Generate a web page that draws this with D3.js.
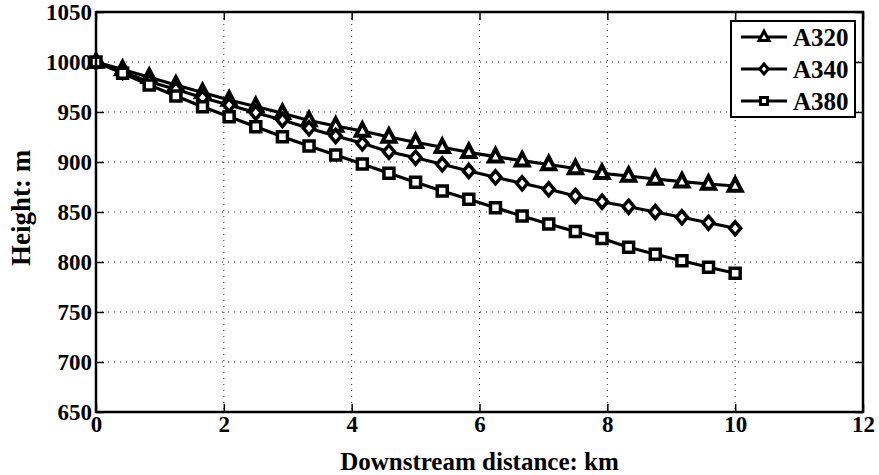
<!DOCTYPE html>
<html>
<head>
<meta charset="utf-8">
<script src="https://cdn.jsdelivr.net/npm/d3@7"></script>
<style>
  body { margin: 0; background: #fff; }
  svg text { font-family: "Liberation Serif", "Times New Roman", serif !important; font-weight: bold; fill: #000; }
</style>
</head>
<body>
<div id="draw_here"></div>
<script type="text/javascript">
    // Data
    xs = [0, 0.417, 0.833, 1.25, 1.667, 2.083, 2.5, 2.917, 3.333, 3.75, 4.167, 4.583, 5,
          5.417, 5.833, 6.25, 6.667, 7.083, 7.5, 7.917, 8.333, 8.75, 9.167, 9.583, 10]
    a320 = [1000, 992.5, 984.7, 977, 969.5, 962, 955.5, 948.7, 941.5, 936, 931, 925, 919.7,
            914.7, 909.7, 905.3, 901.3, 897.5, 893.5, 888.7, 886, 883, 880.3, 878, 876]
    a340 = [1000, 990, 980.3, 972.7, 964.3, 957, 949.3, 942, 933.7, 926, 918.7, 910.3, 904.3,
            897.7, 891, 884.7, 878.7, 872.7, 866, 860.3, 855.3, 850, 844.7, 839.3, 833.7]
    a380 = [1000, 988.7, 977, 966, 955.3, 945.3, 935.3, 925.3, 916, 907, 898, 888.7, 879.7,
            871, 862.7, 854.3, 846, 838, 830.5, 823.5, 814.7, 807.7, 801.3, 794.7, 788.7]
    seriesNames = ["A320", "A340", "A380"]
    seriesMarkers = ["triangle", "diamond", "square"]
    xTicks = [0, 2, 4, 6, 8, 10, 12]
    yTicks = [650, 700, 750, 800, 850, 900, 950, 1000, 1050]

    canvas = ({width: 879, height: 475})
    margin = ({top: 12, right: 16, bottom: 63, left: 96})
    tickLen = 8
    serif = '"Liberation Serif", "Times New Roman", serif'

    x = d3.scaleLinear().domain([0, 12]).range([margin.left, canvas.width - margin.right])
    y = d3.scaleLinear().domain([650, 1050]).range([canvas.height - margin.bottom, margin.top])

    var svg = d3.select("div#draw_here").append("svg")
        .attr("width", canvas.width)
        .attr("height", canvas.height)
        .attr("font-family", serif)

    // marker shapes, centred on 0,0
    function markerPath(kind, s) {
        if (kind == "triangle") {
            var h = s * 0.95
            return `M0,${-h * 0.62}L${s / 2},${h * 0.38}L${-s / 2},${h * 0.38}Z`
        }
        if (kind == "diamond") {
            return `M0,${-s / 2}L${s / 2 * 0.85},0L0,${s / 2}L${-s / 2 * 0.85},0Z`
        }
        return `M${-s / 2},${-s / 2}H${s / 2}V${s / 2}H${-s / 2}Z`
    }
    markerSize = ({triangle: 13, diamond: 13, square: 10})
    markerStroke = ({triangle: 4, diamond: 3.5, square: 3.5})

    // grid
    svg.append("g").selectAll("line")
        .data(xTicks.slice(1, -1))
        .join("line")
        .attr("x1", d => x(d)).attr("x2", d => x(d))
        .attr("y1", y(1050)).attr("y2", y(650))
        .attr("stroke", "#222").attr("stroke-width", 1)
        .attr("stroke-dasharray", "1,5")

    svg.append("g").selectAll("line")
        .data(yTicks.slice(1, -1))
        .join("line")
        .attr("y1", d => y(d)).attr("y2", d => y(d))
        .attr("x1", x(0)).attr("x2", x(12))
        .attr("stroke", "#222").attr("stroke-width", 1)
        .attr("stroke-dasharray", "1,5")

    // axes with inward ticks
    fmt = d3.format("d")
    xAxisB = d3.axisBottom(x).tickValues(xTicks).tickFormat(fmt).tickSizeInner(-tickLen).tickSizeOuter(0).tickPadding(5)
    xAxisT = d3.axisTop(x).tickValues(xTicks).tickSizeInner(-tickLen).tickSizeOuter(0).tickFormat("")
    yAxisL = d3.axisLeft(y).tickValues(yTicks).tickFormat(fmt).tickSizeInner(-tickLen).tickSizeOuter(0).tickPadding(4)
    yAxisR = d3.axisRight(y).tickValues(yTicks).tickSizeInner(-tickLen).tickSizeOuter(0).tickFormat("")

    function styleAxis(g) {
        g.attr("font-family", serif).attr("font-size", 23)
        g.select(".domain").remove()
        g.selectAll(".tick line").attr("stroke", "#000").attr("stroke-width", 1.5)
        g.selectAll("text").style("font-family", serif).style("font-weight", "bold").attr("font-size", 23)
    }

    svg.append("g").attr("transform", `translate(0,${y(650)})`).call(xAxisB).call(styleAxis)
        .selectAll("text").attr("dy", "0.64em")
    svg.append("g").attr("transform", `translate(0,${y(1050)})`).call(xAxisT).call(styleAxis)
    svg.append("g").attr("transform", `translate(${x(0)},0)`).call(yAxisL).call(styleAxis)
    svg.append("g").attr("transform", `translate(${x(12)},0)`).call(yAxisR).call(styleAxis)

    // lines + markers
    line = d3.line()
        .x(d => x(d[0]))
        .y(d => y(d[1]))

    allSeries = [a320, a340, a380]
    allSeries.forEach(function(vals, k) {
        var pts = d3.zip(xs, vals)
        var kind = seriesMarkers[k]
        svg.append("path")
            .attr("fill", "none")
            .attr("stroke", "#000")
            .attr("stroke-width", 3.2)
            .attr("stroke-linejoin", "round")
            .attr("d", line(pts))
        svg.append("g").selectAll("path")
            .data(pts)
            .join("path")
            .attr("transform", d => `translate(${x(d[0])},${y(d[1])})`)
            .attr("d", markerPath(kind, markerSize[kind]))
            .attr("fill", "#fff")
            .attr("stroke", "#000")
            .attr("stroke-width", markerStroke[kind])
            .attr("stroke-linejoin", "miter")
    })

    // box
    svg.append("rect")
        .attr("x", x(0)).attr("y", y(1050))
        .attr("width", x(12) - x(0)).attr("height", y(650) - y(1050))
        .attr("fill", "none").attr("stroke", "#000").attr("stroke-width", 2.5)

    // axis labels
    svg.append("text")
        .attr("x", (x(0) + x(12)) / 2)
        .attr("y", 470)
        .attr("text-anchor", "middle")
        .attr("font-size", 25)
        .text("Downstream distance: km")

    svg.append("text")
        .attr("transform", `translate(30,${(y(650) + y(1050)) / 2 - 4}) rotate(-90)`)
        .attr("text-anchor", "middle")
        .attr("font-size", 27)
        .text("Height: m")

    // legend
    leg = svg.append("g")
    leg.append("rect")
        .attr("x", 731).attr("y", 21)
        .attr("width", 124).attr("height", 96)
        .attr("fill", "#fff").attr("stroke", "#000").attr("stroke-width", 2)

    seriesNames.forEach(function(name, k) {
        var ly = 37 + k * 32
        var kind = seriesMarkers[k]
        leg.append("line")
            .attr("x1", 741).attr("x2", 787)
            .attr("y1", ly).attr("y2", ly)
            .attr("stroke", "#000").attr("stroke-width", 3.2)
        leg.append("path")
            .attr("transform", `translate(764,${ly})`)
            .attr("d", markerPath(kind, markerSize[kind] - 3))
            .attr("fill", "#fff").attr("stroke", "#000").attr("stroke-width", 3)
        leg.append("text")
            .attr("x", 793).attr("y", ly)
            .attr("dy", "0.35em")
            .attr("font-size", 25)
            .text(name)
    })
</script>
</body>
</html>
